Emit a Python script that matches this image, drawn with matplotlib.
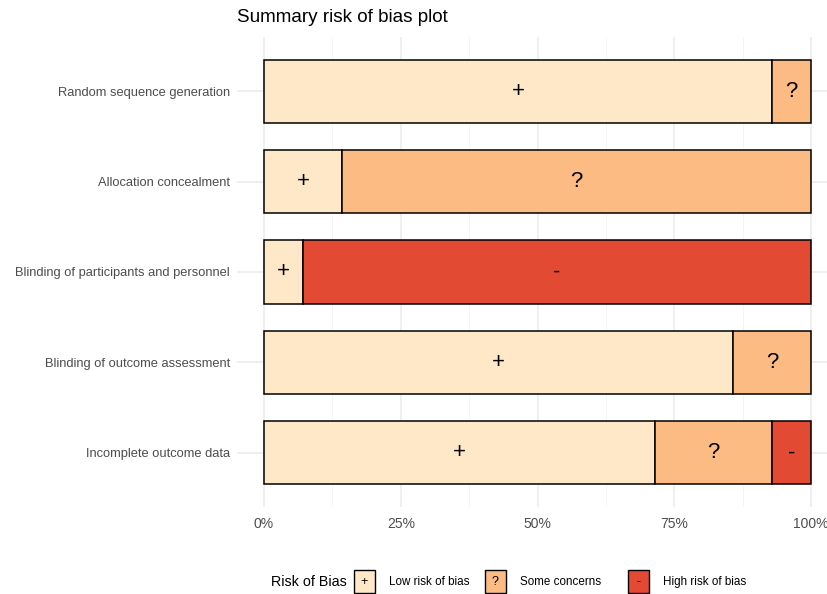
import matplotlib.pyplot as plt
from matplotlib.patches import Rectangle

plt.rcParams['font.family'] = ['Liberation Sans', 'DejaVu Sans']

# domains, top to bottom
domains = ['Random sequence generation', 'Allocation concealment',
           'Blinding of participants and personnel',
           'Blinding of outcome assessment', 'Incomplete outcome data']
# share of studies (14 studies) per judgement
low = [13/14, 2/14, 1/14, 12/14, 10/14]
some = [1/14, 12/14, 0, 2/14, 3/14]
high = [0, 0, 13/14, 0, 1/14]

levels = ['Low risk of bias', 'Some concerns', 'High risk of bias']
symbols = ['+', '?', '-']
colors = ['#FEE8C8', '#FDBB84', '#E34A33']
xticks = [0, 0.25, 0.5, 0.75, 1.0]
xticklabels = ['0%', '25%', '50%', '75%', '100%']

W, H = 828, 594
fig = plt.figure(figsize=(W / 100, H / 100), dpi=100)

def fbox(x0, y0, x1, y1):
    # pixel box (top-left origin) -> figure fraction rect
    return [x0 / W, 1 - y1 / H, (x1 - x0) / W, (y1 - y0) / H]

ax = fig.add_axes(fbox(237, 37, 828, 507))
ax.set_xlim(-0.0494, 1.0311)
ax.set_ylim(0.4, 5.6)

ypos = [5 - i for i in range(len(domains))]
series = [low, some, high]
left = [0.0] * len(domains)
for vals, col, sym in zip(series, colors, symbols):
    for y, l, v in zip(ypos, left, vals):
        if v <= 0:
            continue
        ax.barh(y, v, left=l, height=0.7, color=col, edgecolor='black',
                linewidth=1.1, zorder=3)
        ax.text(l + v / 2, y, sym, ha='center', va='center', fontsize=16,
                color='black', zorder=4)
    left = [a + b for a, b in zip(left, vals)]

# grid, theme_minimal style
for x in [0.125, 0.375, 0.625, 0.875]:
    ax.axvline(x, color='#F2F2F2', linewidth=0.6, zorder=0)
for x in xticks:
    ax.axvline(x, color='#EBEBEB', linewidth=1.1, zorder=0)
for y in ypos:
    ax.axhline(y, color='#EBEBEB', linewidth=1.1, zorder=0)

ax.set_xticks(xticks)
ax.set_xticklabels(xticklabels)
ax.set_yticks(ypos)
ax.set_yticklabels(domains)
ax.tick_params(axis='y', length=0, labelsize=9.3, colors='#4D4D4D', pad=5)
ax.tick_params(axis='x', length=0, labelsize=10, colors='#4D4D4D', pad=7)
for s in ax.spines.values():
    s.set_visible(False)

fig.text(237 / W, 1 - 18 / H, 'Summary risk of bias plot', fontsize=13.6,
         ha='left', va='center')

# legend at the bottom
ly = 582
fig.text(271 / W, 1 - ly / H, 'Risk of Bias', fontsize=10.3, ha='left', va='center')
key_x = [354, 485, 628]
for kx, col, sym, lab in zip(key_x, colors, symbols, levels):
    fig.patches.append(Rectangle((kx / W, 1 - 593 / H), 21 / W, 23 / H,
                                 transform=fig.transFigure, facecolor=col,
                                 edgecolor='black', linewidth=1.0))
    fig.text((kx + 10.5) / W, 1 - ly / H, sym, fontsize=9, ha='center',
             va='center')
    fig.text((kx + 35) / W, 1 - ly / H, lab, fontsize=8.4, ha='left', va='center')

fig.savefig('out.png', dpi=100)
